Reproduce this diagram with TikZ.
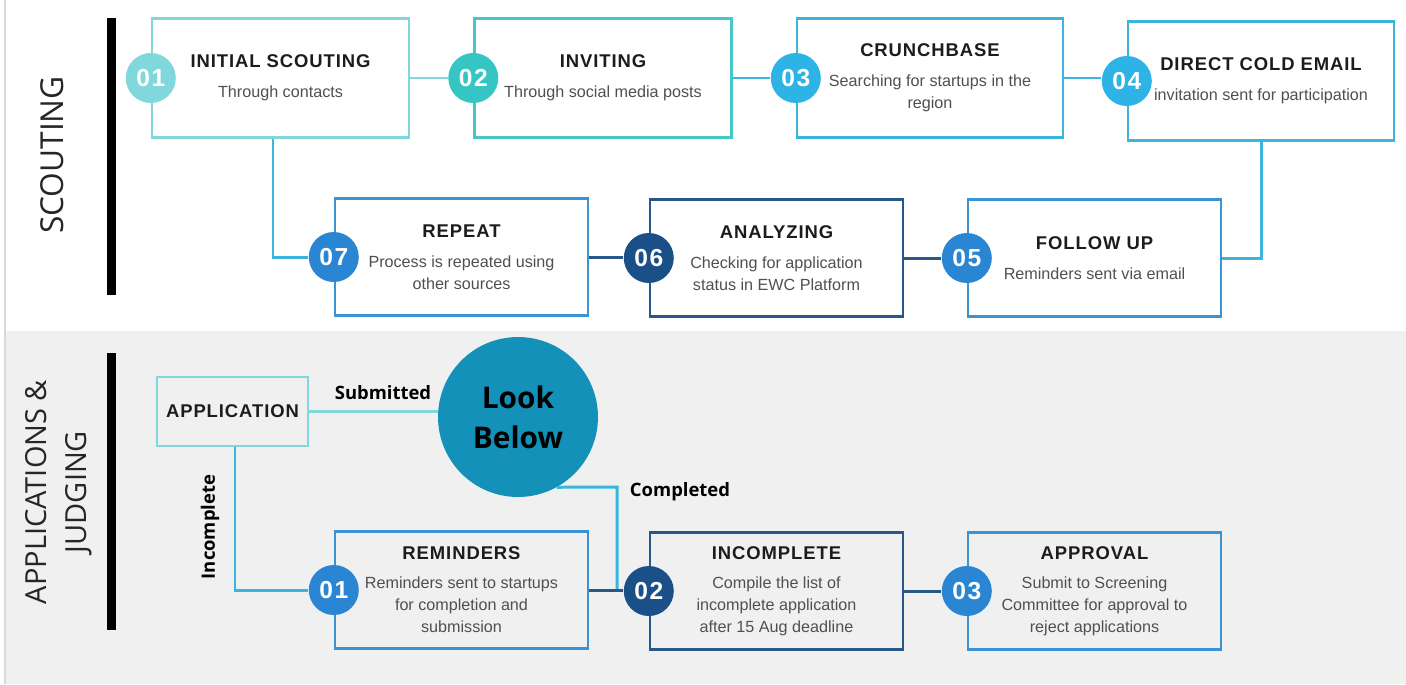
\documentclass[tikz,border=0pt]{standalone}
\usepackage{fontspec}
\setmainfont{Liberation Sans}
\newfontfamily\headfont[LetterSpace=5]{Liberation Sans}
\newfontfamily\digitfont[LetterSpace=6]{Liberation Sans}
\newfontfamily\sidefont{Open Sans}
\newfontfamily\tagfont{Open Sans}

\definecolor{paleteal}{HTML}{80D8DC}
\definecolor{teal}{HTML}{35C6C4}
\definecolor{tealline}{HTML}{45C8C8}
\definecolor{sky}{HTML}{2DB3E5}
\definecolor{skyline}{HTML}{3AB6DE}
\definecolor{midblue}{HTML}{2A86D2}
\definecolor{midline}{HTML}{3C93D4}
\definecolor{navy}{HTML}{1A4F88}
\definecolor{navyline}{HTML}{275887}
\definecolor{lookblue}{HTML}{1491B8}
\definecolor{greyband}{HTML}{F0F0F0}
\definecolor{bodygrey}{HTML}{505050}
\definecolor{titleblack}{HTML}{1C1C1C}

\newcommand{\ttl}[1]{{\headfont\bfseries\fontsize{10.5}{12.5}\selectfont\color{titleblack}#1}}

\tikzset{
    stepbox/.style={draw=#1, line width=1.4pt, align=center, inner sep=0pt,
      font=\fontsize{9.2}{12.5}\selectfont, text=bodygrey},
    topbox/.style={stepbox=#1, minimum width=5.14cm, minimum height=2.38cm},
    widebox/.style={stepbox=#1, minimum width=5.32cm, minimum height=2.38cm},
    lowbox/.style={stepbox=#1, minimum width=5.06cm, minimum height=2.34cm},
    numdot/.style={circle, fill=#1, text=white, minimum size=1cm, inner sep=0pt,
      font=\digitfont\bfseries\fontsize{14}{16}\selectfont},
    link/.style={draw=#1, line width=1.7pt},
    tag/.style={font=\tagfont\bfseries\fontsize{10.5}{12}\selectfont, text=black}
}

\begin{document}
\begin{tikzpicture}[x=0.02cm, y=-0.02cm]
    \useasboundingbox (0, 0) rectangle (1406, 684);
    \fill[white] (0, 0) rectangle (1406, 684);
    \fill[greyband] (6, 331) rectangle (1406, 684);
    \draw[black!15, line width=0.6pt] (5, 0) -- (5, 684);

    \fill[black] (107, 18) rectangle (116, 295);
    \fill[black] (107, 353) rectangle (116, 630);

    \node[rotate=90, font=\sidefont\fontsize{18}{20}\selectfont, text=black!85]
      (scout) at (52, 155) {SCOUTING};
    \node[rotate=90, align=center, font=\sidefont\fontsize{16.5}{22.7}\selectfont, text=black!85]
      (judge) at (59, 492) {APPLICATIONS \&\\JUDGING};

    \node[topbox=paleteal] (s1) at (280.5, 78)
      {\ttl{INITIAL SCOUTING}\\[4.5pt]Through contacts};
    \node[topbox=tealline] (s2) at (603, 78)
      {\ttl{INVITING}\\[4.5pt]Through social media posts};
    \node[widebox=skyline] (s3) at (930, 78)
      {\ttl{CRUNCHBASE}\\[4.5pt]Searching for startups in the\\region};
    \node[widebox=skyline] (s4) at (1261, 81)
      {\ttl{DIRECT COLD EMAIL}\\[4.5pt]invitation sent for participation};

    \node[lowbox=midline] (s7) at (461.5, 257)
      {\ttl{REPEAT}\\[4.5pt]Process is repeated using\\other sources};
    \node[lowbox=navyline] (s6) at (776.5, 258)
      {\ttl{ANALYZING}\\[4.5pt]Checking for application\\status in EWC Platform};
    \node[lowbox=midline] (s5) at (1094.5, 258)
      {\ttl{FOLLOW UP}\\[4.5pt]Reminders sent via email};

    \node[numdot=paleteal] (n1) at (s1.west) {01};
    \node[numdot=teal] (n2) at (s2.west) {02};
    \node[numdot=sky] (n3) at (s3.west) {03};
    \node[numdot=sky] (n4) at (s4.west) {04};
    \node[numdot=midblue] (n5) at (s5.west) {05};
    \node[numdot=navy] (n6) at (s6.west) {06};
    \node[numdot=midblue] (n7) at (s7.west) {07};

    \draw[link=paleteal] (s1.east) -- (n2.west);
    \draw[link=skyline] (s2.east) -- (n3.west);
    \draw[link=skyline] (s3.east) -- (s3.east -| n4.west);
    \draw[link=skyline] (s4.south) |- (s5.east);
    \draw[link=navyline] (s6.east) -- (s6.east -| n5.west);
    \draw[link=navyline] (s7.east) -- (s7.east -| n6.west);
    \draw[link=skyline] ([xshift=-0.15cm]s1.south) |- (n7.west);

    \node[draw=paleteal, line width=1.1pt, minimum width=3.02cm, minimum height=1.38cm,
      inner sep=0pt] (app) at (232.5, 411.5) {\ttl{APPLICATION}};
    \node[circle, fill=lookblue, minimum size=3.2cm, inner sep=0pt, align=center,
      font=\tagfont\bfseries\fontsize{17}{22.7}\selectfont] (look) at (518, 417) {Look\\Below};

    \node[lowbox=midline] (a1) at (461.5, 590)
      {\ttl{REMINDERS}\\[4pt]Reminders sent to startups\\for completion and\\submission};
    \node[lowbox=navyline] (a2) at (776.5, 591)
      {\ttl{INCOMPLETE}\\[4pt]Compile the list of\\incomplete application\\after 15 Aug deadline};
    \node[lowbox=midline] (a3) at (1094.5, 591)
      {\ttl{APPROVAL}\\[4pt]Submit to Screening\\Committee for approval to\\reject applications};

    \node[numdot=midblue] (m1) at (a1.west) {01};
    \node[numdot=navy] (m2) at (a2.west) {02};
    \node[numdot=midblue] (m3) at (a3.west) {03};

    \coordinate (bend) at (617, 487);
    \draw[link=paleteal, line width=1.4pt] (app.east) -- (app.east -| look.west);
    \draw[link=skyline] (look.-61) -- (bend) -- (bend |- m2.west);
    \draw[link=skyline] ([xshift=0.05cm]app.south) |- (m1.west);
    \draw[link=navyline] (a1.east) -- (a1.east -| m2.west);
    \draw[link=navyline] (a2.east) -- (a2.east -| m3.west);

    \node[tag] (sub) at (383, 393) {Submitted};
    \node[tag] (done) at (680, 492) {Completed};
    \node[tag, rotate=90] (inc) at (210, 527) {Incomplete};

\end{tikzpicture}
\end{document}
